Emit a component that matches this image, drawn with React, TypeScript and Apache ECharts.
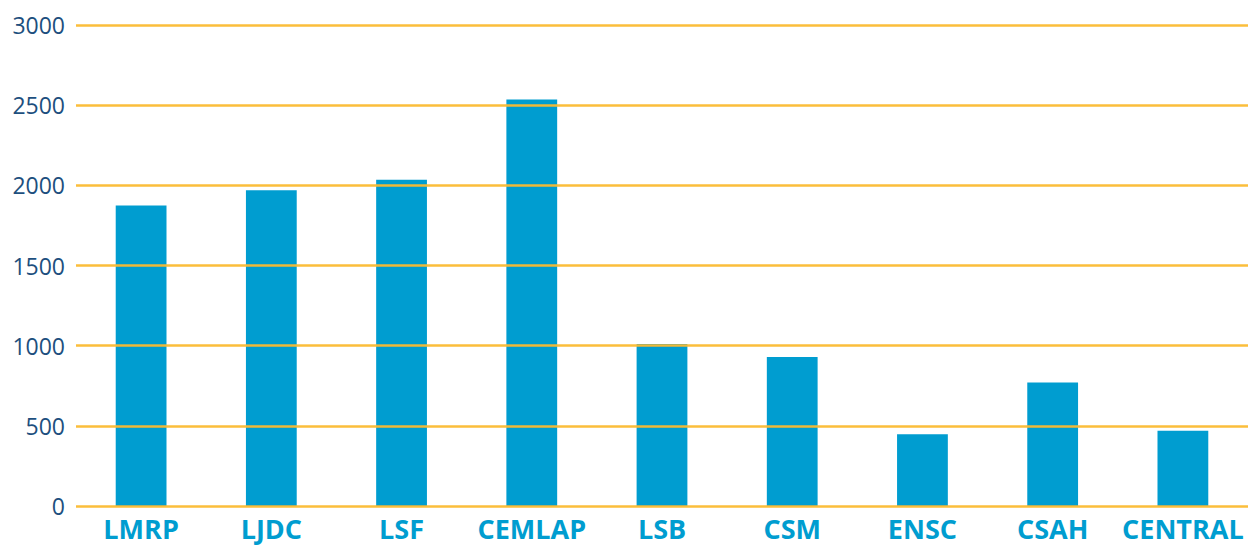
import React, { useEffect, useRef } from "react";
import * as echarts from "echarts";

const categories = ["LMRP", "LJDC", "LSF", "CEMLAP", "LSB", "CSM", "ENSC", "CSAH", "CENTRAL"];
const values = [1875, 1970, 2035, 2535, 1010, 930, 448, 770, 470];
const yMin = 0;
const yMax = 3000;
const yStep = 500;

export default function App() {
  const ref = useRef<HTMLDivElement>(null);
  useEffect(() => {
    if (!ref.current) return;
    const chart = echarts.init(ref.current, null, { renderer: "svg" });
    chart.setOption({
      animation: false,
      backgroundColor: "#ffffff",
      grid: { left: 76, right: 0, top: 25, bottom: 43, containLabel: false },
      xAxis: {
        type: "category",
        data: categories,
        axisLine: { show: false },
        axisTick: { show: false },
        axisLabel: {
          color: "#009DD0",
          fontFamily: "Open Sans",
          fontWeight: "bold",
          fontSize: 27,
          lineHeight: 27,
          margin: 9,
          verticalAlign: "top",
          interval: 0,
        },
      },
      yAxis: {
        type: "value",
        min: yMin,
        max: yMax,
        interval: yStep,
        z: 5,
        axisLine: { show: false },
        axisTick: { show: false },
        axisLabel: {
          color: "#1D4F7E",
          fontFamily: "Open Sans",
          fontSize: 23,
          margin: 11,
          formatter: (v: number) => String(v),
        },
        splitLine: { lineStyle: { color: "#FBBA30", width: 2.5, opacity: 0.95 } },
      },
      series: [
        {
          type: "bar",
          data: values,
          barWidth: "39%",
          itemStyle: { color: "#009DD0" },
        },
      ],
    });
    return () => chart.dispose();
  }, []);
  return (
    <div
      ref={ref}
      style={{ position: "fixed", left: 0, top: 0, width: 1248, height: 549 }}
    />
  );
}
